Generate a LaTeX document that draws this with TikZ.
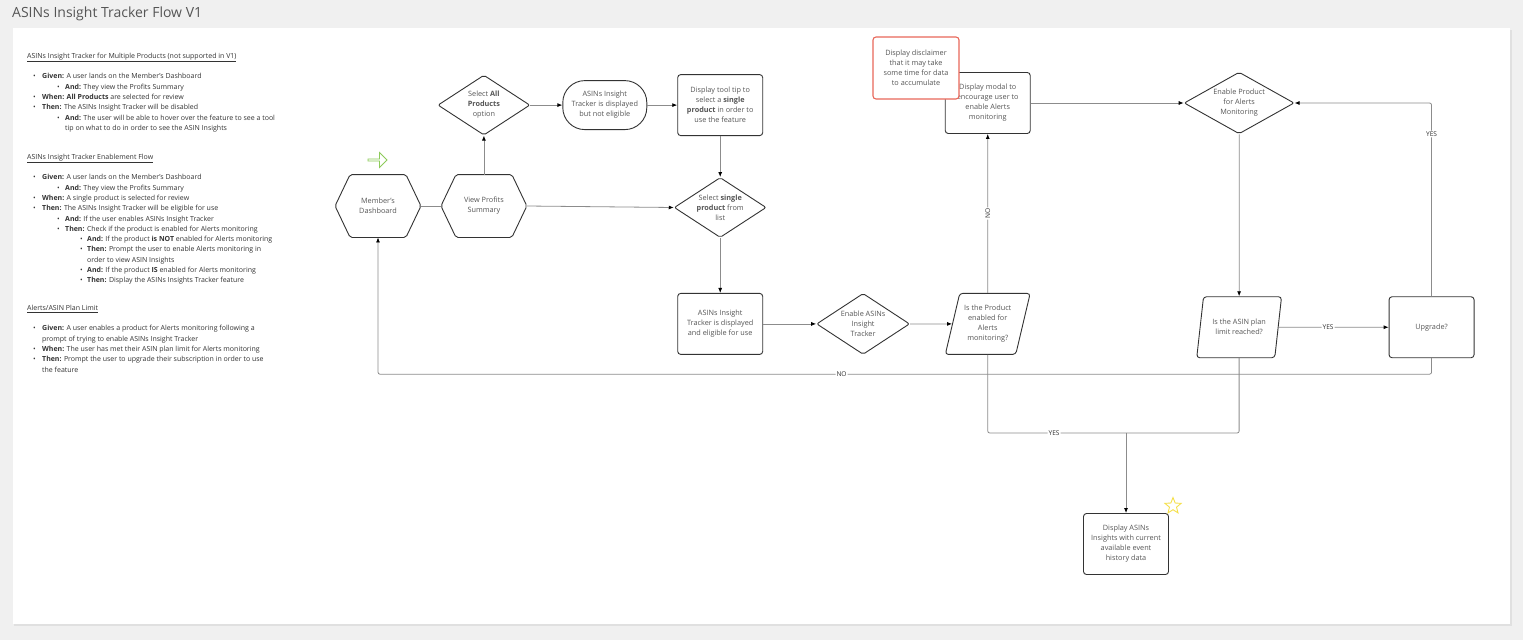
\documentclass[tikz,border=0pt]{standalone}
\usepackage{fontspec}
\setmainfont{Open Sans}
\usetikzlibrary{positioning,arrows.meta,shapes.geometric,shapes.arrows}

\definecolor{ink}{HTML}{333333}
\definecolor{txt}{HTML}{555555}
\definecolor{wire}{HTML}{8C8C8C}
\definecolor{canvas}{HTML}{F0F0F0}
\definecolor{warn}{HTML}{E8675A}
\definecolor{leaf}{HTML}{8DCB5A}
\definecolor{gold}{HTML}{F5E04A}

\newcommand{\lone}{\hspace*{6pt}\makebox[9pt][l]{\textbullet}}
\newcommand{\ltwo}{\hspace*{30pt}\makebox[8pt][l]{\textbullet}}
\newcommand{\lthree}{\hspace*{53pt}\makebox[7pt][l]{\textbullet}}

\begin{document}
\begin{tikzpicture}[x=1pt,y=-1pt,
  node distance=20pt,
  base/.style={draw=ink,line width=0.9pt,fill=white,text=txt,align=center,font=\fontsize{7.3}{10}\selectfont,inner sep=0pt},
  box/.style={base,rounded corners=3pt,minimum width=85pt,minimum height=61pt},
  pill/.style={base,rounded corners=22pt,minimum width=84pt,minimum height=49pt},
  dia/.style={base,diamond,aspect=1.5,rounded corners=2pt,minimum width=92pt,minimum height=60pt},
  hexa/.style={base,draw=none,fill=none,minimum width=85pt,minimum height=62pt},
  para/.style={base,trapezium,trapezium left angle=72,trapezium right angle=108,trapezium stretches=true,rounded corners=3pt,minimum width=85pt,minimum height=61pt},
  note/.style={box,draw=warn,line width=1.1pt,minimum width=86pt,minimum height=62pt},
  line/.style={draw=wire,line width=0.8pt,rounded corners=2pt},
  arr/.style={line,-{Latex[length=5pt,width=4pt,color=black]}},
  lbl/.style={fill=white,inner sep=1pt,text=ink,font=\fontsize{6.6}{7}\selectfont},
  spec/.style={anchor=north west,align=left,text=ink,inner sep=0pt,font=\fontsize{7}{10.3}\selectfont}
]
% backdrop and sheet
\fill[canvas] (0,0) rectangle (1523,640);
\fill[black!12] (14,30) rectangle (1512,626);
\fill[white] (13,28) rectangle (1510,624);
\useasboundingbox (0,0) rectangle (1523,640);
\node[anchor=west,text=txt,inner sep=0pt,font=\fontsize{14}{16}\selectfont] (title) at (12,14) {ASINs Insight Tracker Flow V1};

% acceptance criteria
\node[spec] (multi) at (27,53) {\underline{ASINs Insight Tracker for Multiple Products (not supported in V1)}\\[10pt]
\lone\textbf{Given:} A user lands on the Member's Dashboard\\
\ltwo\textbf{And:} They view the Profits Summary\\
\lone\textbf{When: All Products} are selected for review\\
\lone\textbf{Then:} The ASINs Insight Tracker will be disabled\\
\ltwo\textbf{And:} The user will be able to hover over the feature to see a tool\\
\hspace*{38pt}tip on what to do in order to see the ASIN Insights};
\node[spec] (enable) at (27,154) {\underline{ASINs Insight Tracker Enablement Flow}\\[10pt]
\lone\textbf{Given:} A user lands on the Member's Dashboard\\
\ltwo\textbf{And:} They view the Profits Summary\\
\lone\textbf{When:} A single product is selected for review\\
\lone\textbf{Then:} The ASINs Insight Tracker will be eligible for use\\
\ltwo\textbf{And:} If the user enables ASINs Insight Tracker\\
\ltwo\textbf{Then:} Check if the product is enabled for Alerts monitoring\\
\lthree\textbf{And:} If the product \textbf{is NOT} enabled for Alerts monitoring\\
\lthree\textbf{Then:} Prompt the user to enable Alerts monitoring in\\
\hspace*{60pt}order to view ASIN Insights\\
\lthree\textbf{And:} If the product \textbf{IS} enabled for Alerts monitoring\\
\lthree\textbf{Then:} Display the ASINs Insights Tracker feature};
\node[spec] (limit) at (27,305) {\underline{Alerts/ASIN Plan Limit}\\[10pt]
\lone\textbf{Given:} A user enables a product for Alerts monitoring following a\\
\hspace*{15pt}prompt of trying to enable ASINs Insight Tracker\\
\lone\textbf{When:} The user has met their ASIN plan limit for Alerts monitoring\\
\lone\textbf{Then:} Prompt the user to upgrade their subscription in order to use\\
\hspace*{15pt}the feature};

% flow
\node[hexa] (dash) at (378,206) {Member's\\Dashboard};
\node[hexa,right=of dash] (prof) {View Profits\\Summary};
\node[dia,above=39pt of prof] (allp) {Select \textbf{All}\\\textbf{Products}\\option};
\node[pill,right=32pt of allp] (noel) {ASINs Insight\\Tracker is displayed\\but not eligible};
\node[box,right=30pt of noel] (tip) {Display tool tip to\\select a \textbf{single}\\\textbf{product} in order to\\use the feature};
\node[dia,below=41pt of tip] (sing) {Select \textbf{single}\\\textbf{product} from\\list};
\node[box,below=55pt of sing] (elig) {ASINs Insight\\Tracker is displayed\\and eligible for use};
\node[dia,right=53pt of elig,minimum width=93pt,minimum height=61pt] (enab) {Enable ASINs\\Insight\\Tracker};
\node[para,right=42pt of enab] (isen) {Is the Product\\enabled for\\Alerts\\monitoring?};
\node[box,above=159pt of isen] (modal) {Display modal to\\encourage user to\\enable Alerts\\monitoring};
\node[note] (discl) at (916,68) {Display disclaimer\\that it may take\\some time for data\\to accumulate};
\node[dia,right=153pt of modal,minimum width=110pt,minimum height=61pt] (alrt) {Enable Product\\for Alerts\\Monitoring};
\node[para,below=162pt of alrt] (lim) {Is the ASIN plan\\limit reached?};
\node[box,right=110pt of lim] (upg) {Upgrade?};
\node[box] (show) at (1126,544) {Display ASINs\\Insights with current\\available event\\history data};
\node[single arrow,draw=leaf,line width=0.8pt,minimum height=19pt,minimum width=15pt,single arrow head extend=2.5pt,inner sep=0pt] (go) at (377,160) {};
\node[star,star points=5,star point ratio=2.3,draw=gold,line width=0.9pt,minimum size=17pt,inner sep=0pt] (fav) at (1173,506) {};

% hexagon outlines
\foreach \h in {dash,prof}
  \draw[draw=ink,line width=0.9pt,rounded corners=2pt] ([xshift=15pt]\h.north west) -- ([xshift=-15pt]\h.north east) -- (\h.east) -- ([xshift=-15pt]\h.south east) -- ([xshift=15pt]\h.south west) -- (\h.west) -- cycle;

% connectors
\draw[line] (dash) -- (prof);
\draw[arr] (prof) -- (allp);
\draw[arr] (allp) -- (noel);
\draw[arr] (noel) -- (tip);
\draw[arr] (tip) -- (sing);
\draw[arr] (prof.east) -- (sing.west);
\draw[arr] (sing) -- (elig);
\draw[arr] (elig) -- (enab);
\draw[arr] (enab) -- (isen);
\draw[arr] (isen.center |- isen.north) -- node[lbl,rotate=90] {NO} (modal);
\draw[arr] (modal) -- (alrt);
\draw[arr] (alrt) -- (lim);
\draw[arr] (lim) -- node[lbl,pos=0.45] {YES} (upg);
\draw[arr] (upg.north) |- node[lbl,pos=0.42] {YES} (alrt.east);
\draw[arr] (upg.south) -- ++(0,16) -| node[lbl,pos=0.28] {NO} (dash.south);
\coordinate (join) at (1126,433);
\draw[line] (isen.center |- isen.south) |- node[lbl,pos=0.74] {YES} (join);
\draw[line] (lim.center |- lim.south) |- (join);
\draw[arr] (join) -- (show);
\end{tikzpicture}
\end{document}
